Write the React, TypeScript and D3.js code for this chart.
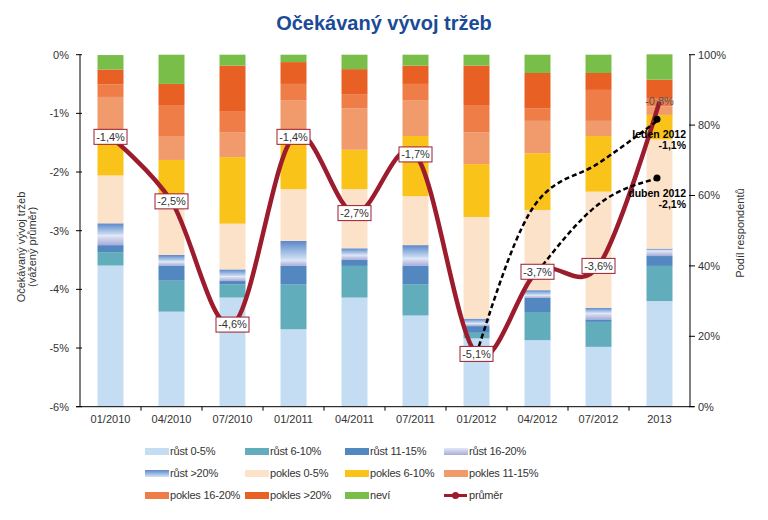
import React from "react";
import * as d3 from "d3";

const categories = ["01/2010", "04/2010", "07/2010", "01/2011", "04/2011", "07/2011", "01/2012", "04/2012", "07/2012", "2013"];

const rust05 = [40.1, 27.0, 31.0, 22.0, 31.0, 25.9, 19.4, 18.9, 17.0, 30.0];
const rust610 = [3.8, 8.8, 3.8, 12.8, 9.0, 8.9, 1.6, 8.0, 7.1, 10.0];
const rust1115 = [2.0, 4.2, 0.9, 5.2, 1.7, 5.2, 1.9, 4.0, 0.7, 2.8];
const rust1620 = [2.8, 1.2, 1.3, 1.7, 1.4, 2.2, 0.8, 0.8, 1.8, 1.5];
const rust20 = [3.4, 1.9, 2.0, 5.4, 1.9, 3.7, 1.3, 1.4, 1.5, 0.6];
const pokles05 = [13.6, 16.6, 13.0, 14.7, 16.8, 13.9, 28.9, 22.8, 33.0, 31.0];
const pokles610 = [9.0, 10.4, 18.9, 14.0, 11.2, 17.1, 15.0, 16.1, 15.8, 7.0];
const pokles1115 = [13.3, 6.8, 7.1, 11.3, 11.8, 10.2, 9.0, 9.2, 4.3, 2.4];
const pokles1620 = [3.6, 8.8, 5.8, 4.6, 4.0, 4.6, 7.8, 3.6, 8.8, 2.4];
const pokles20 = [4.2, 6.0, 13.1, 6.2, 7.1, 5.2, 11.2, 10.0, 4.8, 5.2];
const nevi = [4.1, 8.3, 3.1, 2.1, 4.1, 3.1, 3.1, 5.2, 5.2, 7.2];

const prumer = [-1.4, -2.5, -4.6, -1.4, -2.7, -1.7, -5.1, -3.7, -3.6, -0.8];

const ledenCats = ["01/2012", "04/2012", "07/2012", "2013"];
const ledenVals = [-5.1, -2.5, -1.85, -1.1];
const dubenCats = ["04/2012", "07/2012", "2013"];
const dubenVals = [-3.7, -2.55, -2.1];

const leftTicks = [0, -1, -2, -3, -4, -5, -6];
const rightTicks = [0, 20, 40, 60, 80, 100];

const seriesNames = ["růst 0-5%", "růst 6-10%", "růst 11-15%", "růst 16-20%", "růst >20%", "pokles 0-5%", "pokles 6-10%", "pokles 11-15%", "pokles 16-20%", "pokles >20%", "neví"];
const seriesValues = [rust05, rust610, rust1115, rust1620, rust20, pokles05, pokles610, pokles1115, pokles1620, pokles20, nevi];
const seriesFills = ["#C5DDF2", "#62ADBC", "#5387BF", "url(#g1620)", "url(#g20)", "#FDE2CA", "#F9C319", "#F19A6C", "#EE7D48", "#E86023", "#78BE48"];

const FONT = "'Liberation Sans', Arial, sans-serif";
const TXT = "#333";
const RED = "#9C1C2E";

export default function App() {
  const left = 80, right = 690, top = 54.7, bottom = 406.7;
  const x = d3.scaleBand().domain(categories).range([left, right]).paddingInner(0.574).paddingOuter(0.287);
  const yL = d3.scaleLinear().domain([-6, 0]).range([bottom, top]);
  const yR = d3.scaleLinear().domain([0, 100]).range([bottom, top]);
  const cx = (c: string) => (x(c) as number) + x.bandwidth() / 2;

  const table = categories.map((c, i) => {
    const o: any = { cat: c };
    seriesNames.forEach((n, k) => (o[n] = seriesValues[k][i]));
    return o;
  });
  const stacked = d3.stack().keys(seriesNames)(table);

  const lineGen = d3.line<[string, number]>().x((d) => cx(d[0])).y((d) => yL(d[1])).curve(d3.curveCardinal.tension(0));
  const dashGen = d3.line<[string, number]>().x((d) => cx(d[0])).y((d) => yL(d[1])).curve(d3.curveMonotoneX);
  const mainPath = lineGen(categories.map((c, i) => [c, prumer[i]]));
  const ledenPath = dashGen(ledenCats.map((c, i) => [c, ledenVals[i]]));
  const dubenPath = dashGen(dubenCats.map((c, i) => [c, dubenVals[i]]));

  const step = x.step();
  const fmt = (v: number) => (v.toFixed(1) + "%").replace(".", ",");

  const legendCols = [145, 245, 345, 444];
  const legendRows = [451.5, 473.5, 495.5];
  const legendItems = [...seriesNames, "průměr"];

  return (
    <div style={{ position: "absolute", left: 0, top: 0 }}>
      <svg width={768} height={520} style={{ display: "block", fontFamily: FONT }}>
        <defs>
          <linearGradient id="g1620" x1="0" y1="0" x2="0" y2="1">
            <stop offset="0" stopColor="#E4E8F6" />
            <stop offset="1" stopColor="#A6ACD9" />
          </linearGradient>
          <linearGradient id="g20" x1="0" y1="0" x2="0" y2="1">
            <stop offset="0" stopColor="#5A88C8" />
            <stop offset="1" stopColor="#D4E3F6" />
          </linearGradient>
        </defs>
        <rect width={768} height={520} fill="#fff" />
        <text x={384} y={30} textAnchor="middle" fontSize={20} fontWeight="bold" fill="#1B4A96">
          Očekávaný vývoj tržeb
        </text>

        {stacked.map((s, k) => (
          <g key={k}>
            {s.map((d, i) => (
              <rect key={i} x={x(categories[i])} width={x.bandwidth()} y={yR(d[1])} height={Math.max(0, yR(d[0]) - yR(d[1]))} fill={seriesFills[k]} />
            ))}
          </g>
        ))}

        {/* axes */}
        <line x1={left} x2={left} y1={top} y2={bottom} stroke="#000" strokeWidth={1} />
        <line x1={right} x2={right} y1={top} y2={bottom} stroke="#000" strokeWidth={1} />
        <line x1={left - 4} x2={right + 4} y1={bottom} y2={bottom} stroke="#000" strokeWidth={1} />
        {leftTicks.map((t) => (
          <g key={t}>
            <line x1={left - 4} x2={left + 2} y1={yL(t)} y2={yL(t)} stroke="#000" />
            <text x={69} y={yL(t)} dy="0.35em" textAnchor="end" fontSize={11} fill={TXT}>
              {t + "%"}
            </text>
          </g>
        ))}
        {rightTicks.map((t) => (
          <g key={t}>
            <line x1={right - 1} x2={right + 5} y1={yR(t)} y2={yR(t)} stroke="#000" />
            <text x={698} y={yR(t)} dy="0.35em" textAnchor="start" fontSize={11} fill={TXT}>
              {t + "%"}
            </text>
          </g>
        ))}
        {categories.slice(1).map((c) => (
          <line key={c} x1={(x(c) as number) - (step - x.bandwidth()) / 2} x2={(x(c) as number) - (step - x.bandwidth()) / 2} y1={bottom} y2={bottom + 4} stroke="#000" />
        ))}
        {categories.map((c) => (
          <text key={c} x={cx(c)} y={423} textAnchor="middle" fontSize={11} fill={TXT}>
            {c}
          </text>
        ))}
        <text transform="translate(21,247) rotate(-90)" textAnchor="middle" dominantBaseline="central" fontSize={11} fill={TXT}>
          Očekávaný vývoj tržeb
        </text>
        <text transform="translate(32,247) rotate(-90)" textAnchor="middle" dominantBaseline="central" fontSize={11} fill={TXT}>
          (vážený průměr)
        </text>
        <text transform="translate(739.5,233) rotate(-90)" textAnchor="middle" dominantBaseline="central" fontSize={11} fill={TXT}>
          Podíl respondentů
        </text>

        {/* main line */}
        <path d={mainPath || ""} fill="none" stroke={RED} strokeWidth={4.5} strokeLinejoin="round" />

        {/* dashed projections */}
        <path d={ledenPath || ""} fill="none" stroke="#000" strokeWidth={2.5} strokeDasharray="5,3" />
        <path d={dubenPath || ""} fill="none" stroke="#000" strokeWidth={2.5} strokeDasharray="5,3" />
        <circle cx={cx("2013") - 2.5} cy={yL(ledenVals[ledenVals.length - 1])} r={3.5} fill="#000" />
        <circle cx={cx("2013") - 2.5} cy={yL(dubenVals[dubenVals.length - 1])} r={3.5} fill="#000" />
        <text x={686} y={138} textAnchor="end" fontSize={10.5} fontWeight="bold" fill="#000">leden 2012</text>
        <text x={686} y={149} textAnchor="end" fontSize={10.5} fontWeight="bold" fill="#000">{fmt(ledenVals[ledenVals.length - 1])}</text>
        <text x={686} y={197} textAnchor="end" fontSize={10.5} fontWeight="bold" fill="#000">duben 2012</text>
        <text x={686} y={208} textAnchor="end" fontSize={10.5} fontWeight="bold" fill="#000">{fmt(dubenVals[dubenVals.length - 1])}</text>

        {/* labels */}
        {categories.map((c, i) => {
          const last = i === categories.length - 1;
          const px = cx(c), py = yL(prumer[i]);
          return (
            <g key={c}>
              {!last && <rect x={px - 16.5} y={py - 7.5} width={33} height={15} fill="#fff" stroke={RED} strokeWidth={1} />}
              <text x={px} y={py} dy="0.35em" textAnchor="middle" fontSize={11} fill={last ? "#555" : TXT}>
                {fmt(prumer[i])}
              </text>
            </g>
          );
        })}

        {/* legend */}
        {legendItems.map((n, k) => {
          const lx = legendCols[k % 4];
          const ly = legendRows[Math.floor(k / 4)];
          const isLine = n === "průměr";
          return (
            <g key={n}>
              {isLine ? (
                <g>
                  <line x1={lx} x2={lx + 23} y1={ly} y2={ly} stroke={RED} strokeWidth={3} />
                  <circle cx={lx + 11.5} cy={ly} r={3.5} fill={RED} />
                </g>
              ) : (
                <rect x={lx} y={ly - 3.5} width={24} height={7} fill={seriesFills[k]} />
              )}
              <text x={lx + 25} y={ly} dy="0.35em" fontSize={11} fill={TXT} letterSpacing={-0.2}>
                {n}
              </text>
            </g>
          );
        })}
      </svg>
    </div>
  );
}
